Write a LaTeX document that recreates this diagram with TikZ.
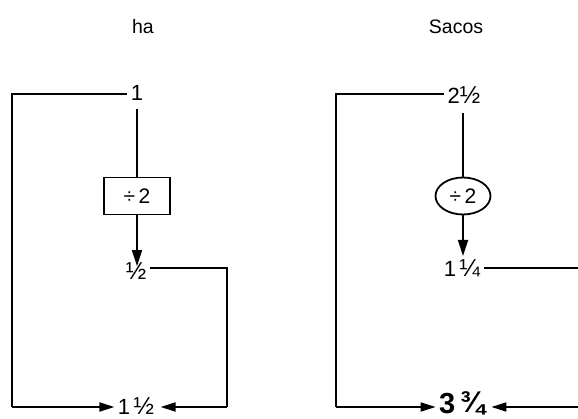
\documentclass[tikz,border=0pt]{standalone}
\usepackage{fontspec}
\setmainfont{Liberation Sans}
\usetikzlibrary{arrows.meta,shapes.geometric}
% vulgar fraction glyphs, set a little larger than the digits beside them
\newcommand\vfr[1]{{\fontsize{24.5}{25}\selectfont #1}}
\newcommand\vfrb[1]{\raisebox{1.5pt}{\fontsize{30}{32}\selectfont\bfseries #1}}
\begin{document}
\begin{tikzpicture}[x=1pt,y=-1pt,
  line width=1.8pt,
  head/.style={inner sep=1pt,font=\fontsize{19.5}{22}\selectfont},
  lbl/.style={inner sep=2.5pt,font=\fontsize{22}{24}\selectfont},
  big/.style={inner sep=2.5pt,font=\fontsize{29}{32}\selectfont\bfseries},
  opbox/.style={draw,rectangle,minimum width=66pt,minimum height=37pt,inner sep=0pt,font=\fontsize{21}{22}\selectfont},
  opcirc/.style={draw,ellipse,minimum width=55pt,minimum height=37pt,inner sep=0pt,font=\fontsize{21}{22}\selectfont},
  arr/.style={-{Triangle[length=16pt,width=10pt]}},
  arrh/.style={-{Triangle[length=15pt,width=9pt]}}]
\useasboundingbox (0,0) rectangle (578,419);
% column headings
\node[head] (ha) at (143,27) {ha};
\node[head] (sacos) at (456,27) {Sacos};
% left flow: hectares
\node[lbl] (a1) at (137,93) {1};
\node[opbox] (d1) at (137,196) {÷\,2};
\node[lbl] (h1) at (136,271) {\vfr{½}};
\node[lbl] (r1) at (136,406) {1\,\vfr{½}};
\coordinate (a1l) at (12,94);
\coordinate (a1b) at (12,407);
\coordinate (h1r) at (227,268);
\coordinate (h1b) at (227,407);
\draw (a1.west |- a1l) -- (a1l) -- (a1b);
\draw[arrh] (a1b) -- (a1b -| r1.west);
\draw ([yshift=-5pt]a1.south) -- (d1.north);
\draw[arr] (d1.south) -- ([yshift=-7pt]d1.south |- h1.north);
\draw (h1.east |- h1r) -- (h1r) -- (h1b);
\draw[arrh] (h1b) -- ([xshift=3pt]h1b -| r1.east);
% right flow: sacks
\node[lbl] (a2) at (464,95) {2\vfr{½}};
\node[opcirc] (d2) at (463,196) {÷\,2};
\node[lbl] (h2) at (462,268) {1\,\vfr{¼}};
\node[big] (r2) at (462,403) {3\,\vfrb{¾}};
\coordinate (a2l) at (336,94);
\coordinate (a2b) at (336,407);
\coordinate (h2r) at (590,268);
\coordinate (h2b) at (590,407);
\draw (a2.west |- a2l) -- (a2l) -- (a2b);
\draw[arrh] (a2b) -- (a2b -| r2.west);
\draw ([yshift=-6pt]a2.south -| d2.north) -- (d2.north);
\draw[arr] (d2.south) -- (d2.south |- h2.north);
\draw (h2.east |- h2r) -- (h2r) -- (h2b);
\draw[arrh] (h2b) -- ([xshift=3pt]h2b -| r2.east);
\end{tikzpicture}
\end{document}
